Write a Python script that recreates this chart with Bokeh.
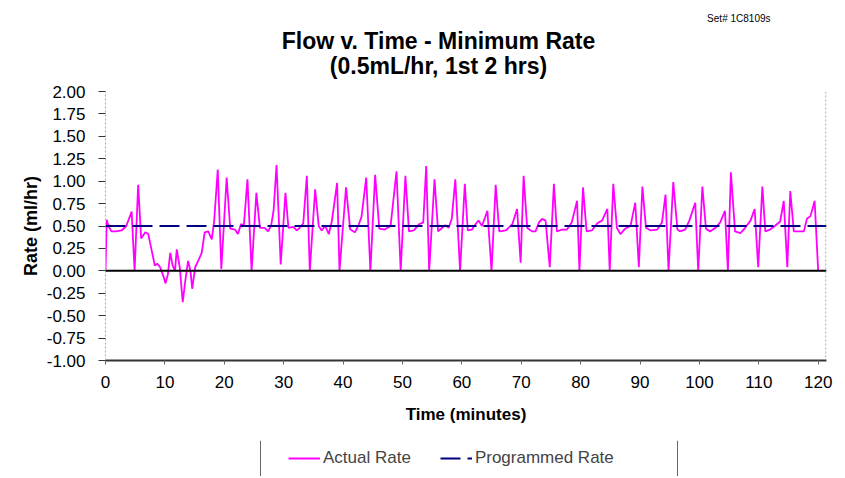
from bokeh.plotting import figure
from bokeh.layouts import column
from bokeh.models import (Range1d, FixedTicker, NumeralTickFormatter, Span, Label,
                          Legend, LegendItem)
from bokeh.embed import file_html
from bokeh.resources import INLINE

# ---- data ----
time_min = [
    0.0, 0.2, 0.5, 1.0, 1.8, 2.7, 3.5, 4.4, 4.9, 5.5, 6.0, 6.7, 7.2, 7.8, 8.3, 8.7, 9.2, 9.8,
    10.1, 10.5, 10.9, 11.3, 11.7, 12.0, 12.5, 13.0, 13.4, 13.9, 14.3, 14.6, 15.1, 15.6, 16.2,
    16.7, 17.3, 17.9, 18.3, 18.9, 19.5, 20.4, 21.0, 21.8, 22.3, 22.8, 23.3, 23.9, 24.6, 25.4,
    26.0, 26.8, 27.4, 27.9, 28.3, 28.8, 29.5, 30.3, 30.8, 31.6, 32.2, 32.7, 33.3, 33.9, 34.4,
    35.3, 35.9, 36.4, 37.0, 37.6, 38.1, 39.0, 39.4, 40.5, 41.2, 42.0, 42.6, 43.1, 43.9, 44.6,
    45.4, 46.1, 47.0, 48.0, 49.0, 49.7, 50.5, 51.1, 51.9, 52.8, 53.5, 54.0, 54.5, 55.4, 56.0,
    56.7, 57.2, 57.8, 58.3, 58.9, 59.7, 60.5, 61.0, 61.7, 62.3, 62.8, 63.4, 64.3, 65.0, 65.7,
    66.3, 67.4, 68.5, 69.3, 69.9, 70.4, 71.0, 71.8, 72.4, 73.0, 73.5, 74.1, 74.8, 75.5, 76.0,
    76.9, 77.7, 78.5, 79.4, 79.8, 80.4, 81.0, 81.9, 82.8, 83.6, 84.5, 84.9, 85.5, 86.1, 86.7,
    87.5, 88.4, 89.2, 89.8, 90.4, 91.0, 91.8, 92.9, 93.7, 94.3, 94.8, 95.6, 96.3, 96.7, 97.6,
    98.3, 99.3, 99.8, 100.5, 101.1, 101.8, 102.7, 103.5, 104.3, 104.8, 105.3, 106.0, 106.9,
    107.7, 108.6, 109.3, 109.9, 110.6, 111.1, 111.9, 112.7, 113.6, 114.2, 114.8, 115.3, 115.9,
    116.7, 117.6, 118.1, 118.7, 119.4, 120.0,
]
actual_rate = [
    0.0, 0.57, 0.50, 0.44, 0.44, 0.45, 0.50, 0.66, 0.0, 0.96, 0.36, 0.43, 0.41, 0.22, 0.06, 0.08, 0.04, -0.07,
    -0.14, -0.04, 0.20, 0.06, 0.0, 0.24, 0.04, -0.35, -0.13, 0.11, 0.0, -0.20, 0.04, 0.11, 0.20,
    0.43, 0.44, 0.35, 0.56, 1.13, 0.02, 1.04, 0.47, 0.46, 0.41, 0.52, 0.51, 1.02, 0.0, 0.87,
    0.48, 0.48, 0.44, 0.51, 0.67, 1.18, 0.07, 0.87, 0.48, 0.49, 0.45, 0.48, 0.53, 1.06, 0.0,
    0.91, 0.50, 0.45, 0.50, 0.41, 0.55, 0.98, 0.0, 0.93, 0.46, 0.43, 0.51, 0.60, 1.04, 0.0,
    1.07, 0.47, 0.46, 0.50, 1.11, 0.0, 1.06, 0.44, 0.45, 0.52, 0.54, 1.17, 0.0, 1.02, 0.44,
    0.48, 0.51, 0.48, 0.58, 1.02, 0.0, 0.97, 0.45, 0.46, 0.52, 0.56, 0.50, 0.67, 0.0, 0.96,
    0.44, 0.45, 0.52, 0.69, 0.09, 1.06, 0.48, 0.44, 0.44, 0.54, 0.58, 0.56, 0.04, 0.97, 0.44,
    0.46, 0.46, 0.54, 0.78, 0.0, 0.93, 0.44, 0.45, 0.53, 0.56, 0.69, 0.0, 0.97, 0.48, 0.41,
    0.47, 0.50, 0.76, 0.04, 0.94, 0.48, 0.45, 0.46, 0.54, 0.85, 0.0, 0.99, 0.46, 0.44, 0.46,
    0.56, 0.76, 0.0, 0.94, 0.47, 0.44, 0.48, 0.54, 0.67, 0.0, 1.10, 0.44, 0.42,
    0.48, 0.56, 0.69, 0.04, 0.94, 0.44, 0.46, 0.50, 0.55, 0.78, 0.04, 0.89, 0.44,
    0.44, 0.44, 0.58, 0.61, 0.78, 0.0,
]
programmed_time = [0.0, 121.4]
programmed_rate = [0.5, 0.5]

x_ticks = [0, 10, 20, 30, 40, 50, 60, 70, 80, 90, 100, 110, 120]
y_ticks = [-1.0, -0.75, -0.5, -0.25, 0.0, 0.25, 0.5, 0.75, 1.0, 1.25, 1.5, 1.75, 2.0]

title_1 = "Flow v. Time - Minimum Rate"
title_2 = "(0.5mL/hr, 1st 2 hrs)"
set_text = "Set# 1C8109s"
x_title = "Time (minutes)"
y_title = "Rate (ml/hr)"
series_names = ["Actual Rate", "Programmed Rate"]

FONT = "Liberation Sans"
MAGENTA = "#FF00FF"
NAVY = "#000080"
W = 840
FRAME_L, FRAME_R = 105, 826   # page pixels of the plotting frame


def bare(fig):
    fig.grid.visible = False
    fig.outline_line_color = None
    fig.background_fill_color = "white"
    fig.border_fill_color = "white"


def strip(height, y_range):
    f = figure(width=W, height=height, x_range=Range1d(FRAME_L, FRAME_R), y_range=y_range,
               x_axis_location=None, y_axis_location=None,
               output_backend="svg", toolbar_location=None,
               min_border=0, min_border_left=FRAME_L, min_border_right=W - FRAME_R,
               min_border_top=0, min_border_bottom=0)
    bare(f)
    return f


# ---------------- title strip (x in page pixels) ----------------
pt = strip(81, Range1d(81, 0))
pt.add_layout(Label(x=438, y=40, text=title_1, text_font=FONT, text_font_style="bold",
                    text_font_size="23px", text_align="center", text_baseline="middle",
                    text_color="black"))
pt.add_layout(Label(x=438, y=65, text=title_2, text_font=FONT, text_font_style="bold",
                    text_font_size="23px", text_align="center", text_baseline="middle",
                    text_color="black"))
pt.add_layout(Label(x=770, y=18, text=set_text, text_font=FONT,
                    text_font_size="10px", text_align="right", text_baseline="middle",
                    text_color="black"))

# ---------------- main chart ----------------
p = figure(width=W, height=359,
           x_range=Range1d(0, 121.4), y_range=Range1d(-1, 2),
           output_backend="svg", toolbar_location=None,
           min_border_left=FRAME_L, min_border_right=W - FRAME_R,
           min_border_top=10, min_border_bottom=80)
bare(p)

actual = p.line(time_min, actual_rate, line_color=MAGENTA, line_width=1.8)
prog = p.line(programmed_time, programmed_rate, line_color=NAVY, line_width=2,
              line_dash="20 7")

p.add_layout(Span(location=0, dimension="width", line_color="black", line_width=2))
p.add_layout(Span(location=121.3, dimension="height", line_color="#999999",
                  line_width=1, line_dash="2 2"))

xa = p.xaxis[0]
xa.ticker = FixedTicker(ticks=x_ticks)
xa.major_label_text_font = FONT
xa.major_label_text_font_size = "17px"
xa.major_label_text_color = "black"
xa.axis_line_color = "#333333"
xa.axis_line_width = 2
xa.major_tick_line_color = "#666666"
xa.major_tick_out = 4
xa.major_tick_in = 0
xa.minor_tick_line_color = None
xa.major_label_standoff = 11
xa.axis_label = x_title
xa.axis_label_text_font = FONT
xa.axis_label_text_font_style = "bold"
xa.axis_label_text_font_size = "17px"
xa.axis_label_text_color = "black"
xa.axis_label_standoff = 14

ya = p.yaxis[0]
ya.ticker = FixedTicker(ticks=y_ticks)
ya.formatter = NumeralTickFormatter(format="0.00")
ya.major_label_text_font = FONT
ya.major_label_text_font_size = "17px"
ya.major_label_text_color = "black"
ya.axis_line_color = "#aaaaaa"
ya.axis_line_dash = "2 2"
ya.major_tick_line_color = "#333333"
ya.major_tick_out = 7
ya.major_tick_in = 0
ya.minor_tick_line_color = None
ya.major_label_standoff = 13
ya.axis_label = y_title
ya.axis_label_text_font = FONT
ya.axis_label_text_font_style = "bold"
ya.axis_label_text_font_size = "18px"
ya.axis_label_text_color = "black"
ya.axis_label_standoff = 3

# ---------------- legend strip ----------------
pl = strip(36, Range1d(0, 36))
# legend proxies: same styles as the chart's series, kept below the visible range
leg_actual = pl.line(x=programmed_time, y=[-50, -50], line_color=MAGENTA, line_width=1.8)
leg_prog = pl.line(x=programmed_time, y=[-50, -50], line_color=NAVY, line_width=2,
                   line_dash="20 7")
legend = Legend(items=[LegendItem(label=series_names[0], renderers=[leg_actual]),
                       LegendItem(label=series_names[1], renderers=[leg_prog])],
                location=(288 - 2 - FRAME_L, 6), orientation="horizontal",
                border_line_alpha=0, background_fill_alpha=0,
                label_text_font=FONT, label_text_font_size="17px",
                glyph_width=32, glyph_height=16, label_height=16,
                label_standoff=3, spacing=29, padding=2, margin=0)
pl.add_layout(legend)
for edge in (260, 677):
    pl.add_layout(Span(location=edge, dimension="height", line_color="#666666",
                       line_width=1))

layout = column(pt, p, pl, spacing=0)
open("out.html", "w").write(file_html(layout, INLINE))
